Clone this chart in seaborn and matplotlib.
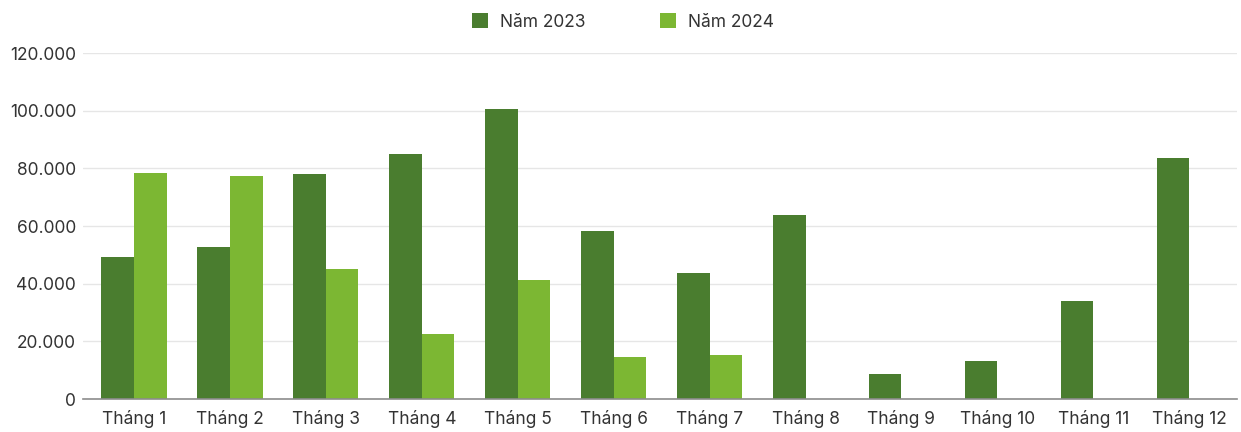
import matplotlib
matplotlib.use("Agg")
import matplotlib.pyplot as plt
import matplotlib.ticker as mticker
import seaborn as sns
import pandas as pd

months = ["Tháng 1", "Tháng 2", "Tháng 3", "Tháng 4", "Tháng 5", "Tháng 6",
          "Tháng 7", "Tháng 8", "Tháng 9", "Tháng 10", "Tháng 11", "Tháng 12"]
series_names = ["Năm 2023", "Năm 2024"]
values_2023 = [49400, 52900, 78100, 85100, 100800, 58200,
               43900, 63900, 8800, 13400, 33900, 83600]
values_2024 = [78600, 77400, 45000, 22500, 41300, 14600, 15200]
y_ticks = [0, 20000, 40000, 60000, 80000, 100000, 120000]
colors = ["#4a7d2f", "#7cb733"]

rows = []
for m, v in zip(months, values_2023):
    rows.append({"month": m, "series": series_names[0], "value": v})
for m, v in zip(months, values_2024):
    rows.append({"month": m, "series": series_names[1], "value": v})
df = pd.DataFrame(rows)

sns.set_theme(style="white")
plt.rcParams["font.family"] = ["Inter", "DejaVu Sans"]

fig, ax = plt.subplots(figsize=(12.41, 4.32), dpi=100)
fig.subplots_adjust(left=0.067, right=0.997, top=0.877, bottom=0.076)

sns.barplot(data=df, x="month", y="value", hue="series", order=months,
            hue_order=series_names, palette=colors, width=0.68,
            saturation=1, linewidth=0, ax=ax, legend=True)

ax.set_ylim(0, 120000)
ax.set_yticks(y_ticks)
ax.yaxis.set_major_formatter(
    mticker.FuncFormatter(lambda v, _: f"{int(v):,}".replace(",", ".")))
ax.grid(axis="y", color="#e6e6e6", linewidth=1)
ax.set_axisbelow(True)
for s in ["left", "right", "top"]:
    ax.spines[s].set_visible(False)
ax.spines["bottom"].set_color("#8c8c8c")
ax.spines["bottom"].set_linewidth(1.2)
ax.tick_params(axis="both", length=0, labelsize=12.5, colors="#333333")
ax.tick_params(axis="x", pad=8)
ax.tick_params(axis="y", pad=5)
ax.set_xlabel("")
ax.set_ylabel("")
ax.set_xlim(-0.53, len(months) - 0.5)

ax.legend(loc="lower center", bbox_to_anchor=(0.468, 1.02), ncol=2,
          frameon=False, fontsize=12.5, handlelength=0.92, handleheight=0.92,
          columnspacing=4.3, handletextpad=0.7, labelcolor="#333333")

fig.savefig("out.png", dpi=100)
